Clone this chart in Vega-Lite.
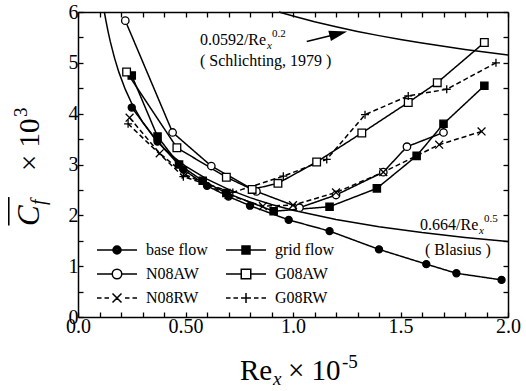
{
  "$schema": "https://vega.github.io/schema/vega-lite/v6.json",
  "width": 430,
  "height": 305,
  "autosize": {"type": "none"},
  "padding": {"left": 78, "top": 12, "right": 18, "bottom": 74},
  "background": "white",
  "config": {
    "view": {"stroke": null},
    "font": "Liberation Serif",
    "axis": {
      "grid": false,
      "domainColor": "black",
      "domainWidth": 1.5,
      "tickColor": "black",
      "tickWidth": 1.3,
      "labelColor": "black",
      "labelFont": "Liberation Serif",
      "labelFontSize": 20,
      "labelFlush": false,
      "labelOverlap": false,
      "title": null
    },
    "legend": {
      "symbolStrokeColor": "black",
      "symbolStrokeWidth": 1.5
    }
  },
  "datasets": {
    "curves": [
      {"c": "Blasius", "x": 0.1225, "y": 6.0},
      {"c": "Blasius", "x": 0.13, "y": 5.824},
      {"c": "Blasius", "x": 0.14, "y": 5.612},
      {"c": "Blasius", "x": 0.15, "y": 5.422},
      {"c": "Blasius", "x": 0.17, "y": 5.093},
      {"c": "Blasius", "x": 0.19, "y": 4.817},
      {"c": "Blasius", "x": 0.22, "y": 4.477},
      {"c": "Blasius", "x": 0.25, "y": 4.2},
      {"c": "Blasius", "x": 0.3, "y": 3.834},
      {"c": "Blasius", "x": 0.35, "y": 3.549},
      {"c": "Blasius", "x": 0.4, "y": 3.32},
      {"c": "Blasius", "x": 0.45, "y": 3.13},
      {"c": "Blasius", "x": 0.5, "y": 2.97},
      {"c": "Blasius", "x": 0.6, "y": 2.711},
      {"c": "Blasius", "x": 0.7, "y": 2.51},
      {"c": "Blasius", "x": 0.8, "y": 2.348},
      {"c": "Blasius", "x": 0.9, "y": 2.213},
      {"c": "Blasius", "x": 1.0, "y": 2.1},
      {"c": "Blasius", "x": 1.2, "y": 1.917},
      {"c": "Blasius", "x": 1.4, "y": 1.775},
      {"c": "Blasius", "x": 1.6, "y": 1.66},
      {"c": "Blasius", "x": 1.8, "y": 1.565},
      {"c": "Blasius", "x": 2.0, "y": 1.485},
      {"c": "Schlichting", "x": 0.935, "y": 6.0},
      {"c": "Schlichting", "x": 1.0, "y": 5.92},
      {"c": "Schlichting", "x": 1.1, "y": 5.808},
      {"c": "Schlichting", "x": 1.2, "y": 5.708},
      {"c": "Schlichting", "x": 1.3, "y": 5.617},
      {"c": "Schlichting", "x": 1.4, "y": 5.535},
      {"c": "Schlichting", "x": 1.5, "y": 5.459},
      {"c": "Schlichting", "x": 1.6, "y": 5.389},
      {"c": "Schlichting", "x": 1.7, "y": 5.324},
      {"c": "Schlichting", "x": 1.8, "y": 5.263},
      {"c": "Schlichting", "x": 1.9, "y": 5.207},
      {"c": "Schlichting", "x": 2.0, "y": 5.154}
    ],
    "series": [
      {"s": "base flow", "x": 0.25, "y": 4.12},
      {"s": "base flow", "x": 0.37, "y": 3.45},
      {"s": "base flow", "x": 0.49, "y": 2.9},
      {"s": "base flow", "x": 0.6, "y": 2.58},
      {"s": "base flow", "x": 0.7, "y": 2.37},
      {"s": "base flow", "x": 0.8, "y": 2.19},
      {"s": "base flow", "x": 0.98, "y": 1.91},
      {"s": "base flow", "x": 1.17, "y": 1.69},
      {"s": "base flow", "x": 1.4, "y": 1.33},
      {"s": "base flow", "x": 1.62, "y": 1.04},
      {"s": "base flow", "x": 1.76, "y": 0.86},
      {"s": "base flow", "x": 1.97, "y": 0.73},
      {"s": "grid flow", "x": 0.25, "y": 4.75},
      {"s": "grid flow", "x": 0.37, "y": 3.55},
      {"s": "grid flow", "x": 0.47, "y": 3.0},
      {"s": "grid flow", "x": 0.58, "y": 2.68},
      {"s": "grid flow", "x": 0.69, "y": 2.44},
      {"s": "grid flow", "x": 0.91, "y": 2.08},
      {"s": "grid flow", "x": 1.17, "y": 2.17},
      {"s": "grid flow", "x": 1.39, "y": 2.53},
      {"s": "grid flow", "x": 1.575, "y": 3.17},
      {"s": "grid flow", "x": 1.7, "y": 3.8},
      {"s": "grid flow", "x": 1.89, "y": 4.55},
      {"s": "N08AW", "x": 0.22, "y": 5.83},
      {"s": "N08AW", "x": 0.44, "y": 3.63},
      {"s": "N08AW", "x": 0.62, "y": 2.97},
      {"s": "N08AW", "x": 0.83, "y": 2.47},
      {"s": "N08AW", "x": 1.03, "y": 2.15},
      {"s": "N08AW", "x": 1.2, "y": 2.4},
      {"s": "N08AW", "x": 1.42, "y": 2.85},
      {"s": "N08AW", "x": 1.53, "y": 3.35},
      {"s": "N08AW", "x": 1.7, "y": 3.63},
      {"s": "G08AW", "x": 0.226, "y": 4.82},
      {"s": "G08AW", "x": 0.46, "y": 3.33},
      {"s": "G08AW", "x": 0.69, "y": 2.75},
      {"s": "G08AW", "x": 0.81, "y": 2.51},
      {"s": "G08AW", "x": 0.93, "y": 2.63},
      {"s": "G08AW", "x": 1.11, "y": 3.05},
      {"s": "G08AW", "x": 1.32, "y": 3.62},
      {"s": "G08AW", "x": 1.536, "y": 4.22},
      {"s": "G08AW", "x": 1.671, "y": 4.61},
      {"s": "G08AW", "x": 1.89, "y": 5.4},
      {"s": "N08RW", "x": 0.24, "y": 3.92},
      {"s": "N08RW", "x": 0.38, "y": 3.22},
      {"s": "N08RW", "x": 0.5, "y": 2.8},
      {"s": "N08RW", "x": 0.7, "y": 2.4},
      {"s": "N08RW", "x": 0.86, "y": 2.18},
      {"s": "N08RW", "x": 1.0, "y": 2.2},
      {"s": "N08RW", "x": 1.2, "y": 2.45},
      {"s": "N08RW", "x": 1.42, "y": 2.85},
      {"s": "N08RW", "x": 1.68, "y": 3.39},
      {"s": "N08RW", "x": 1.877, "y": 3.65},
      {"s": "G08RW", "x": 0.233, "y": 3.8},
      {"s": "G08RW", "x": 0.49, "y": 2.76},
      {"s": "G08RW", "x": 0.72, "y": 2.45},
      {"s": "G08RW", "x": 0.955, "y": 2.77},
      {"s": "G08RW", "x": 1.157, "y": 3.1},
      {"s": "G08RW", "x": 1.335, "y": 3.98},
      {"s": "G08RW", "x": 1.536, "y": 4.35},
      {"s": "G08RW", "x": 1.715, "y": 4.48},
      {"s": "G08RW", "x": 1.944, "y": 5.0}
    ]
  },
  "layer": [
    {
      "data": {"name": "curves"},
      "mark": {"type": "line", "color": "black", "strokeWidth": 1.5},
      "encoding": {
        "x": {"field": "x", "type": "quantitative", "scale": {"domain": [0, 2], "nice": false, "zero": false},
          "axis": {"orient": "bottom", "values": [0, 0.1, 0.2, 0.3, 0.4, 0.5, 0.6, 0.7, 0.8, 0.9, 1, 1.1, 1.2, 1.3, 1.4, 1.5, 1.6, 1.7, 1.8, 1.9, 2],
            "tickSize": -5, "labelPadding": 4,
            "labelExpr": "datum.value === 0 ? '0.0' : datum.value === 0.5 ? '0.50' : datum.value === 1 ? '1.0' : datum.value === 1.5 ? '1.5' : datum.value === 2 ? '2.0' : ''"}},
        "y": {"field": "y", "type": "quantitative", "scale": {"domain": [0, 6], "nice": false},
          "axis": {"orient": "left", "values": [0, 0.5, 1, 1.5, 2, 2.5, 3, 3.5, 4, 4.5, 5, 5.5, 6],
            "tickSize": -5, "labelPadding": 5,
            "labelExpr": "datum.value % 1 === 0 ? format(datum.value, 'd') : ''"}},
        "detail": {"field": "c"}
      }
    },
    {
      "data": {"name": "series"},
      "mark": {"type": "line", "color": "black", "strokeWidth": 1.5},
      "encoding": {
        "x": {"field": "x", "type": "quantitative",
          "axis": {"orient": "top", "values": [0, 0.1, 0.2, 0.3, 0.4, 0.5, 0.6, 0.7, 0.8, 0.9, 1, 1.1, 1.2, 1.3, 1.4, 1.5, 1.6, 1.7, 1.8, 1.9, 2], "tickSize": -5, "labels": false}},
        "y": {"field": "y", "type": "quantitative",
          "axis": {"orient": "right", "values": [0, 0.5, 1, 1.5, 2, 2.5, 3, 3.5, 4, 4.5, 5, 5.5, 6], "tickSize": -5, "labels": false}},
        "strokeDash": {"field": "s", "type": "nominal",
          "scale": {"domain": ["base flow", "grid flow", "N08AW", "G08AW", "N08RW", "G08RW"], "range": [[1, 0], [1, 0], [1, 0], [1, 0], [5, 3], [5, 3]]},
          "legend": null}
      }
    },
    {
      "data": {"name": "series"},
      "mark": {"type": "point", "stroke": "black", "strokeWidth": 1.3, "opacity": 1},
      "encoding": {
        "x": {"field": "x", "type": "quantitative", "axis": null},
        "y": {"field": "y", "type": "quantitative", "axis": null},
        "fill": {"field": "s", "type": "nominal",
          "scale": {"domain": ["base flow", "grid flow", "N08AW", "G08AW", "N08RW", "G08RW"], "range": ["black", "black", "white", "white", "white", "white"]},
          "legend": null},
        "size": {"field": "s", "type": "nominal",
          "scale": {"domain": ["base flow", "grid flow", "N08AW", "G08AW", "N08RW", "G08RW"], "range": [50, 64, 85, 100, 80, 120]},
          "legend": null},
        "shape": {"field": "s", "type": "nominal",
          "scale": {"domain": ["base flow", "grid flow", "N08AW", "G08AW", "N08RW", "G08RW"],
            "range": ["circle", "square", "circle", "square", "M-1,-1L1,1M-1,1L1,-1", "M-1,0H1M0,-1V1"]},
          "legend": null}
      }
    },
    {
      "data": {"name": "series"},
      "transform": [{"filter": "datum.x < 0"}],
      "mark": {"type": "point", "filled": false, "color": "black", "stroke": "black", "strokeWidth": 1.5, "opacity": 1, "size": 100},
      "encoding": {
        "x": {"field": "x", "type": "quantitative", "axis": null},
        "y": {"field": "y", "type": "quantitative", "axis": null},
        "shape": {"field": "s", "type": "nominal",
          "scale": {"domain": ["base flow", "grid flow", "N08AW", "G08AW", "N08RW", "G08RW"],
            "range": [
              "M-4,0H-0.8M0.8,0H4M-0.8,0A0.8,0.8 0 1,0 0.8,0A0.8,0.8 0 1,0 -0.8,0M-0.55,0A0.55,0.55 0 1,0 0.55,0A0.55,0.55 0 1,0 -0.55,0M-0.3,0A0.3,0.3 0 1,0 0.3,0A0.3,0.3 0 1,0 -0.3,0M-0.1,0H0.1",
              "M-4,0H4M-0.8,-0.8H0.8V0.8H-0.8ZM-0.8,-0.54H0.8M-0.8,-0.27H0.8M-0.8,0.27H0.8M-0.8,0.54H0.8",
              "M-4,0H-0.95M0.95,0H4M-0.95,0A0.95,0.95 0 1,0 0.95,0A0.95,0.95 0 1,0 -0.95,0Z",
              "M-4,0H-0.95M0.95,0H4M-0.95,-0.95H0.95V0.95H-0.95Z",
              "M-4,0H-3.1M-2.5,0H-1.6M-0.9,-0.9L0.9,0.9M-0.9,0.9L0.9,-0.9M1.6,0H2.5M3.1,0H4",
              "M-4,0H-3.1M-2.5,0H-1.6M-1,0H1M0,-1V1M1.6,0H2.5M3.1,0H4"
            ]},
          "legend": {
            "title": null, "orient": "none", "direction": "horizontal", "legendX": 17, "legendY": 230,
            "columns": 2, "columnPadding": 15, "rowPadding": 8, "padding": 0, "symbolSize": 100,
            "symbolOffset": 14, "labelOffset": 21, "labelFont": "Liberation Serif", "labelFontSize": 16,
            "labelColor": "black", "symbolStrokeWidth": 1.5, "symbolStrokeColor": "black",
            "symbolFillColor": "transparent"}}
      }
    },
    {
      "data": {"values": [{"t": "0.0592/Re"}]},
      "mark": {"type": "text", "align": "left", "baseline": "alphabetic", "fontSize": 16, "font": "Liberation Serif", "color": "black"},
      "encoding": {"x": {"datum": 0.567, "type": "quantitative", "axis": null}, "y": {"datum": 5.354, "type": "quantitative", "axis": null}, "text": {"field": "t"}}
    },
    {
      "data": {"values": [{"t": "x"}]},
      "mark": {"type": "text", "align": "left", "baseline": "alphabetic", "fontSize": 11, "fontStyle": "italic", "font": "Liberation Serif", "color": "black", "dx": 67, "dy": 4},
      "encoding": {"x": {"datum": 0.567, "type": "quantitative", "axis": null}, "y": {"datum": 5.354, "type": "quantitative", "axis": null}, "text": {"field": "t"}}
    },
    {
      "data": {"values": [{"t": "0.2"}]},
      "mark": {"type": "text", "align": "left", "baseline": "alphabetic", "fontSize": 11, "font": "Liberation Serif", "color": "black", "dx": 72, "dy": -8},
      "encoding": {"x": {"datum": 0.567, "type": "quantitative", "axis": null}, "y": {"datum": 5.354, "type": "quantitative", "axis": null}, "text": {"field": "t"}}
    },
    {
      "data": {"values": [{"t": "( Schlichting, 1979 )"}]},
      "mark": {"type": "text", "align": "left", "baseline": "alphabetic", "fontSize": 16, "font": "Liberation Serif", "color": "black"},
      "encoding": {"x": {"datum": 0.567, "type": "quantitative", "axis": null}, "y": {"datum": 4.94, "type": "quantitative", "axis": null}, "text": {"field": "t"}}
    },
    {
      "data": {"values": [{"t": "0.664/Re"}]},
      "mark": {"type": "text", "align": "left", "baseline": "alphabetic", "fontSize": 16, "font": "Liberation Serif", "color": "black"},
      "encoding": {"x": {"datum": 1.591, "type": "quantitative", "axis": null}, "y": {"datum": 1.713, "type": "quantitative", "axis": null}, "text": {"field": "t"}}
    },
    {
      "data": {"values": [{"t": "x"}]},
      "mark": {"type": "text", "align": "left", "baseline": "alphabetic", "fontSize": 11, "fontStyle": "italic", "font": "Liberation Serif", "color": "black", "dx": 59, "dy": 4},
      "encoding": {"x": {"datum": 1.591, "type": "quantitative", "axis": null}, "y": {"datum": 1.713, "type": "quantitative", "axis": null}, "text": {"field": "t"}}
    },
    {
      "data": {"values": [{"t": "0.5"}]},
      "mark": {"type": "text", "align": "left", "baseline": "alphabetic", "fontSize": 11, "font": "Liberation Serif", "color": "black", "dx": 64, "dy": -8},
      "encoding": {"x": {"datum": 1.591, "type": "quantitative", "axis": null}, "y": {"datum": 1.713, "type": "quantitative", "axis": null}, "text": {"field": "t"}}
    },
    {
      "data": {"values": [{"t": "( Blasius )"}]},
      "mark": {"type": "text", "align": "left", "baseline": "alphabetic", "fontSize": 16, "font": "Liberation Serif", "color": "black"},
      "encoding": {"x": {"datum": 1.614, "type": "quantitative", "axis": null}, "y": {"datum": 1.22, "type": "quantitative", "axis": null}, "text": {"field": "t"}}
    },
    {
      "data": {"values": [{"a": 1}]},
      "mark": {"type": "rule", "color": "black", "strokeWidth": 1.6},
      "encoding": {"x": {"datum": 1.064, "type": "quantitative", "axis": null}, "y": {"datum": 5.42, "type": "quantitative", "axis": null}, "x2": {"datum": 1.211}, "y2": {"datum": 5.573}}
    },
    {
      "data": {"values": [{"a": 1}]},
      "mark": {"type": "point", "shape": "M-1,-0.6L1,0L-1,0.6Z", "size": 324, "filled": true, "color": "black", "opacity": 1, "angle": 346},
      "encoding": {"x": {"datum": 1.211, "type": "quantitative", "axis": null}, "y": {"datum": 5.573, "type": "quantitative", "axis": null}}
    },
    {
      "data": {"values": [{"t": "Re"}]},
      "mark": {"type": "text", "align": "left", "baseline": "alphabetic", "fontSize": 29, "font": "Liberation Serif", "color": "black"},
      "encoding": {"x": {"datum": 0.753, "type": "quantitative", "axis": null}, "y": {"datum": -1.24, "type": "quantitative", "axis": null}, "text": {"field": "t"}}
    },
    {
      "data": {"values": [{"t": "x"}]},
      "mark": {"type": "text", "align": "left", "baseline": "alphabetic", "fontSize": 19, "fontStyle": "italic", "font": "Liberation Serif", "color": "black", "dx": 33, "dy": 5},
      "encoding": {"x": {"datum": 0.753, "type": "quantitative", "axis": null}, "y": {"datum": -1.24, "type": "quantitative", "axis": null}, "text": {"field": "t"}}
    },
    {
      "data": {"values": [{"t": "× 10"}]},
      "mark": {"type": "text", "align": "left", "baseline": "alphabetic", "fontSize": 29, "font": "Liberation Serif", "color": "black", "dx": 48},
      "encoding": {"x": {"datum": 0.753, "type": "quantitative", "axis": null}, "y": {"datum": -1.24, "type": "quantitative", "axis": null}, "text": {"field": "t"}}
    },
    {
      "data": {"values": [{"t": "-5"}]},
      "mark": {"type": "text", "align": "left", "baseline": "alphabetic", "fontSize": 19, "font": "Liberation Serif", "color": "black", "dx": 102, "dy": -12},
      "encoding": {"x": {"datum": 0.753, "type": "quantitative", "axis": null}, "y": {"datum": -1.24, "type": "quantitative", "axis": null}, "text": {"field": "t"}}
    },
    {
      "data": {"values": [{"t": "C"}]},
      "mark": {"type": "text", "align": "left", "baseline": "alphabetic", "angle": 270, "fontSize": 31, "fontStyle": "italic", "font": "Liberation Serif", "color": "black"},
      "encoding": {"x": {"datum": -0.18, "type": "quantitative", "axis": null}, "y": {"datum": 1.79, "type": "quantitative", "axis": null}, "text": {"field": "t"}}
    },
    {
      "data": {"values": [{"t": "f"}]},
      "mark": {"type": "text", "align": "left", "baseline": "alphabetic", "angle": 270, "fontSize": 20, "fontStyle": "italic", "font": "Liberation Serif", "color": "black", "dx": 21, "dy": 6},
      "encoding": {"x": {"datum": -0.18, "type": "quantitative", "axis": null}, "y": {"datum": 1.79, "type": "quantitative", "axis": null}, "text": {"field": "t"}}
    },
    {
      "data": {"values": [{"a": 1}]},
      "mark": {"type": "rule", "color": "black", "strokeWidth": 1.6},
      "encoding": {"x": {"datum": -0.322, "type": "quantitative", "axis": null}, "y": {"datum": 1.8, "type": "quantitative", "axis": null}, "y2": {"datum": 2.36}}
    },
    {
      "data": {"values": [{"t": "× 10"}]},
      "mark": {"type": "text", "align": "left", "baseline": "alphabetic", "angle": 270, "fontSize": 29, "font": "Liberation Serif", "color": "black", "dx": 55},
      "encoding": {"x": {"datum": -0.18, "type": "quantitative", "axis": null}, "y": {"datum": 1.79, "type": "quantitative", "axis": null}, "text": {"field": "t"}}
    },
    {
      "data": {"values": [{"t": "3"}]},
      "mark": {"type": "text", "align": "left", "baseline": "alphabetic", "angle": 270, "fontSize": 19, "font": "Liberation Serif", "color": "black", "dx": 109, "dy": -12},
      "encoding": {"x": {"datum": -0.18, "type": "quantitative", "axis": null}, "y": {"datum": 1.79, "type": "quantitative", "axis": null}, "text": {"field": "t"}}
    }
  ],
  "resolve": {
    "scale": {"shape": "independent"},
    "axis": {"x": "independent", "y": "independent"}
  }
}
